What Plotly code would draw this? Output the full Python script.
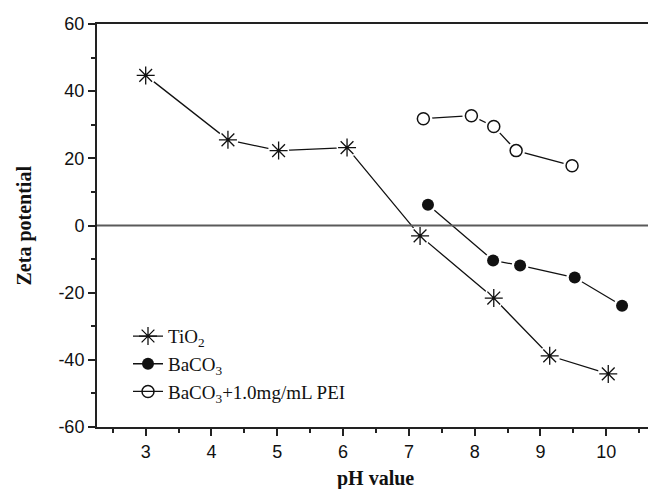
import plotly.graph_objects as go

# ---- data ----
tio2_ph = [3.0, 4.25, 5.02, 6.06, 7.17, 8.29, 9.14, 10.03]
tio2_zeta = [44.7, 25.5, 22.3, 23.2, -3.1, -21.6, -38.8, -44.2]

baco3_ph = [7.29, 8.28, 8.69, 9.52, 10.24]
baco3_zeta = [6.2, -10.4, -11.9, -15.5, -23.9]

pei_ph = [7.22, 7.95, 8.29, 8.63, 9.48]
pei_zeta = [31.8, 32.7, 29.5, 22.3, 17.8]

series_names = ["TiO<sub>2</sub>", "BaCO<sub>3</sub>", "BaCO<sub>3</sub>+1.0mg/mL PEI"]
x_ticks = [3, 4, 5, 6, 7, 8, 9, 10]
y_ticks = [-60, -40, -20, 0, 20, 40, 60]

INK = "#111111"
AX = "#222222"

series = [
    (tio2_ph, tio2_zeta, series_names[0], dict(symbol="asterisk-open", size=15, color=INK, line=dict(color=INK, width=1.3)), 21),
    (baco3_ph, baco3_zeta, series_names[1], dict(symbol="circle", size=12, color=INK, line=dict(color=INK, width=0)), 17),
    (pei_ph, pei_zeta, series_names[2], dict(symbol="circle-open", size=12, color=INK, line=dict(color=INK, width=1.5)), 18),
]

fig = go.Figure()

for i, (x, y, name, mk, halo) in enumerate(series):
    fig.add_trace(go.Scatter(
        x=x, y=y, mode="lines+markers", name=name,
        legendgroup=f"g{i}",
        line=dict(color=INK, width=1.3),
        marker=mk,
    ))
for i, (x, y, name, mk, halo) in enumerate(series):
    fig.add_trace(go.Scatter(
        x=x, y=y, mode="markers", showlegend=False, hoverinfo="skip",
        marker=dict(symbol="circle", size=halo, color="white", line=dict(width=0)),
    ))
for i, (x, y, name, mk, halo) in enumerate(series):
    fig.add_trace(go.Scatter(
        x=x, y=y, mode="markers", showlegend=False, name=name,
        marker=mk,
    ))

fig.add_shape(type="line", xref="paper", x0=0, x1=1, yref="y", y0=0, y1=0,
              line=dict(color="#5a5a5a", width=2), layer="above")

PW = 551  # plot width in px
fig.add_annotation(text="<b>pH value</b>", xref="paper", yref="paper",
                   x=(375 - 97) / PW, y=-(478 - 427) / 403, xanchor="center", yanchor="middle",
                   showarrow=False, font=dict(family="Liberation Serif", size=20, color=INK))
fig.add_annotation(text="<b>Zeta potential</b>", xref="paper", yref="paper",
                   x=(24 - 97) / PW, y=0.5, xanchor="center", yanchor="middle", textangle=-90,
                   showarrow=False, font=dict(family="Liberation Serif", size=20, color=INK))

fig.update_layout(
    width=648, height=489,
    margin=dict(l=97, r=0, t=24, b=62, autoexpand=False),
    paper_bgcolor="white", plot_bgcolor="white",
    showlegend=True,
    legend=dict(
        x=31 / PW, y=0.2725, xanchor="left", yanchor="top",
        bgcolor="rgba(0,0,0,0)", borderwidth=0,
        font=dict(family="Liberation Serif", size=19, color=INK),
        traceorder="grouped", tracegroupgap=0,
    ),
    xaxis=dict(
        range=[2.26, 10.634], automargin=False,
        tickmode="array", tickvals=x_ticks, ticktext=[str(t) for t in x_ticks],
        ticks="outside", ticklen=7, tickwidth=1.5, tickcolor=AX,
        minor=dict(dtick=0.5, tick0=0, ticks="outside", ticklen=4, tickwidth=1.5, tickcolor=AX),
        showline=True, linecolor=AX, linewidth=2, mirror=True,
        showgrid=False, zeroline=False,
        tickfont=dict(family="Liberation Sans", size=18, color=INK),
    ),
    yaxis=dict(
        range=[-60, 60], automargin=False,
        tickmode="array", tickvals=y_ticks, ticktext=[str(t) for t in y_ticks],
        ticks="outside", ticklen=7, tickwidth=1.5, tickcolor=AX,
        minor=dict(dtick=10, tick0=0, ticks="outside", ticklen=4, tickwidth=1.5, tickcolor=AX),
        showline=True, linecolor=AX, linewidth=2, mirror=False,
        showgrid=False, zeroline=False,
        tickfont=dict(family="Liberation Sans", size=18, color=INK),
    ),
)

fig.write_html("out.html", config={"displayModeBar": False},
               post_script="document.body.style.margin='0';document.body.style.overflow='hidden';")
